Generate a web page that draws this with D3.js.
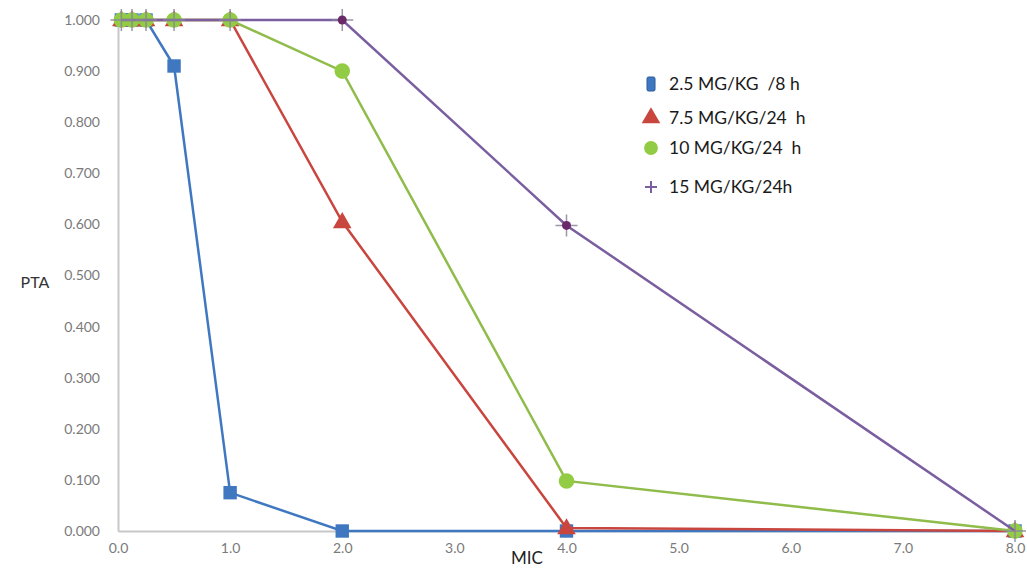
<!DOCTYPE html>
<html><head><meta charset="utf-8">
<script src="https://cdn.jsdelivr.net/npm/d3@7"></script>
<style>body{margin:0;background:#fff}svg{display:block}text{white-space:pre}</style>
</head><body>
<svg id="c" width="1027" height="569"></svg>
<script>
const mic = [0.03, 0.125, 0.25, 0.5, 1, 2, 4, 8];
const s25 = [1, 1, 1, 0.91, 0.075, 0, 0, 0];
const s75 = [1, 1, 1, 1, 1, 0.605, 0.006, 0];
const s10 = [1, 1, 1, 1, 1, 0.9, 0.098, 0];
const s15 = [1, 1, 1, 1, 1, 1, 0.598, 0];
const seriesNames = ["2.5 MG/KG  /8 h", "7.5 MG/KG/24  h", "10 MG/KG/24  h", "15 MG/KG/24h"];
const xTicks = [0, 1, 2, 3, 4, 5, 6, 7, 8];
const yTicks = [0, 0.1, 0.2, 0.3, 0.4, 0.5, 0.6, 0.7, 0.8, 0.9, 1.0];

const svg = d3.select("#c");
const font = "Lato, 'Open Sans', sans-serif";
const x = d3.scaleLinear().domain([0, 8]).range([118, 1015]);
const y = d3.scaleLinear().domain([0, 1]).range([531, 20]);

const yAxis = svg.append("g").attr("transform", "translate(118,0)")
  .call(d3.axisLeft(y).tickValues(yTicks).tickFormat(d3.format(".3f")).tickSize(0).tickPadding(18));
const xAxis = svg.append("g").attr("transform", "translate(0,531)")
  .call(d3.axisBottom(x).tickValues(xTicks).tickFormat(d3.format(".1f")).tickSize(0).tickPadding(12));
[yAxis, xAxis].forEach(g => {
  g.select(".domain").attr("stroke", "#c8c8c8").attr("stroke-width", 2);
  g.selectAll("text").attr("fill", "#7a7a7a").style("font-family", font).style("font-size", "14px");
});

svg.append("text").attr("x", 527).attr("y", 564).attr("text-anchor", "middle")
  .style("font-family", font).style("font-size", "17px").attr("fill", "#222").text("MIC");
svg.append("text").attr("x", 35).attr("y", 288).attr("text-anchor", "middle")
  .style("font-family", font).style("font-size", "16px").attr("fill", "#333").text("PTA");

const series = [
  {vals: s25, color: "#3f78c0", marker: "square"},
  {vals: s75, color: "#c9463f", marker: "triangle"},
  {vals: s10, color: "#8fbc4a", mcolor: "#92cc44", marker: "circle"},
  {vals: s15, color: "#7a5ea0", marker: "plus"}
];
const line = d3.line().x(d => x(d[0])).y(d => y(d[1]));
const sym = {square: d3.symbolSquare, triangle: d3.symbolTriangle, circle: d3.symbolCircle};

series.forEach(s => {
  const pts = mic.map((m, i) => [m, s.vals[i]]);
  svg.append("path").datum(pts).attr("d", line).attr("fill", "none")
    .attr("stroke", s.color).attr("stroke-width", 2.5);
  const g = svg.append("g");
  pts.forEach((p, i) => {
    const t = g.append("g").attr("transform", `translate(${x(p[0])},${y(p[1])})`);
    if (s.marker === "plus") {
      t.append("path").attr("d", "M-11,0H11M0,-11V11").attr("stroke", "#8a849a").attr("stroke-width", 1.5).attr("opacity", 0.85);
      if (i === 5 || i === 6) t.append("circle").attr("r", 4.5).attr("fill", "#6a2a6a");
    } else {
      const size = s.marker === "square" ? 180 : s.marker === "triangle" ? 150 : 190;
      t.append("path").attr("d", d3.symbol().type(sym[s.marker]).size(size)())
        .attr("fill", s.mcolor || s.color)
        .attr("transform", s.marker === "triangle" ? "translate(0,1)" : null);
    }
  });
});

const leg = svg.append("g").style("font-family", font).style("font-size", "17.5px");
const ly = [84, 118, 148, 187];
series.forEach((s, i) => {
  const t = leg.append("g").attr("transform", `translate(651,${ly[i]})`);
  if (s.marker === "plus") {
    t.append("path").attr("d", "M-6,0H6M0,-6V6").attr("stroke", s.color).attr("stroke-width", 2);
  } else if (s.marker === "square") {
    t.append("rect").attr("x", -4).attr("y", -7).attr("width", 8).attr("height", 14).attr("rx", 1.5)
      .attr("fill", s.color).attr("stroke", "#2a5a9a");
  } else {
    t.append("path").attr("d", d3.symbol().type(sym[s.marker]).size(150)()).attr("fill", s.mcolor || s.color);
  }
  leg.append("text").attr("x", 669).attr("y", ly[i] + 6).attr("fill", "#1a1a1a")
    .attr("xml:space", "preserve").text(seriesNames[i]);
});
</script>
</body></html>
